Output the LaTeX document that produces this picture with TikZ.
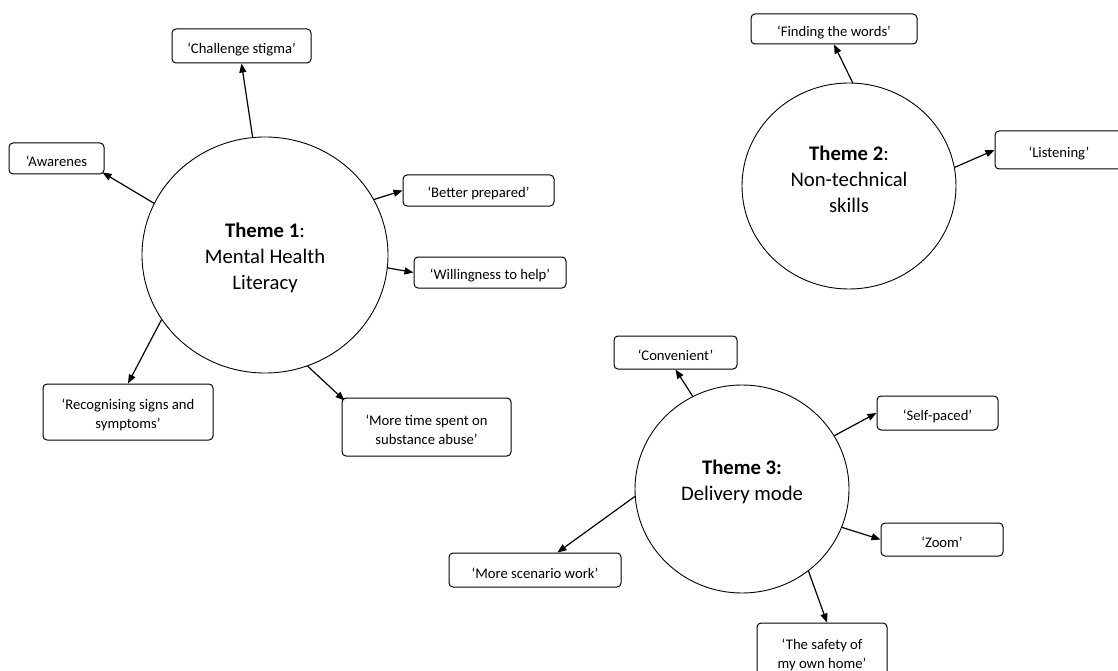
\documentclass[tikz,border=0pt]{standalone}
\usepackage{fontspec}
\setmainfont{Carlito}
\usetikzlibrary{arrows.meta,shapes.geometric}
\begin{document}
\begin{tikzpicture}[x=1pt,y=-1pt,
  theme/.style={draw, ellipse, line width=0.9pt, inner sep=0pt},
  quote/.style={draw, rounded corners=4pt, line width=1pt, align=center, inner sep=0pt, font=\fontsize{14.67}{19}\selectfont, execute at begin node={\rule{0pt}{17pt}}},
  ttl/.style={align=center, font=\fontsize{20.7}{26}\selectfont},
  link/.style={line width=1.2pt, -{Triangle[length=9pt,width=7pt]}}]
\useasboundingbox (0,0) rectangle (1118,671);
\clip (0,0) rectangle (1118,671);

% Theme 1
\node[theme, minimum width=246pt, minimum height=236pt] (c1) at (265,255) {};
\node[ttl] (t1) at (265,258) {\textbf{Theme 1}:\\Mental Health\\Literacy};
\node[quote, minimum width=139pt, minimum height=34pt] (cs) at (241.5,46) {‘Challenge stigma’};
\node[quote, minimum width=95pt, minimum height=31pt] (aw) at (56.5,158.5) {‘Awarenes};
\node[quote, minimum width=151pt, minimum height=31pt] (bp) at (478.5,190.5) {‘Better prepared’};
\node[quote, minimum width=152pt, minimum height=31pt] (wh) at (490,272.5) {‘Willingness to help’};
\node[quote, minimum width=170pt, minimum height=56pt] (rs) at (128,412) {\rule{0pt}{17pt}‘Recognising signs and\\symptoms’};
\node[quote, minimum width=169pt, minimum height=58pt] (mt) at (426.5,427) {\rule{0pt}{17pt}‘More time spent on\\substance abuse’};

% Theme 2
\node[theme, minimum width=214pt, minimum height=206pt] (c2) at (849,186) {};
\node[ttl] (t2) at (849,179) {\textbf{Theme 2}:\\Non-technical\\skills};
\node[quote, minimum width=166pt, minimum height=30pt] (fw) at (834,29) {‘Finding the words’};
\node[quote, minimum width=128pt, minimum height=38pt] (li) at (1059,150) {‘Listening’};

% Theme 3
\node[theme, minimum width=214pt, minimum height=208pt] (c3) at (742,489) {};
\node[ttl] (t3) at (742,482) {\textbf{Theme 3:}\\Delivery mode};
\node[quote, minimum width=123pt, minimum height=33pt] (cv) at (675.5,352.5) {‘Convenient’};
\node[quote, minimum width=121pt, minimum height=34pt] (sp) at (937.5,413) {‘Self-paced’};
\node[quote, minimum width=122pt, minimum height=33pt] (zm) at (942,539.5) {‘Zoom’};
\node[quote, minimum width=172pt, minimum height=34pt] (ms) at (535,570) {‘More scenario work’};
\node[quote, minimum width=130pt, minimum height=57pt] (sf) at (822,651.5) {\rule{0pt}{17pt}‘The safety of\\my own home’};

% connectors
\draw[link] (c1.96) -- (cs.south);
\draw[link] (c1.155) -- ([xshift=-2pt,yshift=2pt]aw.south east);
\draw[link] (c1.27) -- (bp.west);
\draw[link] (c1.-6) -- (wh.west);
\draw[link] (c1.212) -- (rs.north);
\draw[link] (c1.-69) -- ([xshift=3pt,yshift=-3pt]mt.north west);
\draw[link] (c2.88) -- (fw.south);
\draw[link] (c2.10) -- (li.west);
\draw[link] (c3.118) -- (cv.south);
\draw[link] (c3.30) -- (sp.west);
\draw[link] (c3.-21) -- (zm.west);
\draw[link] (c3.184) -- (ms.38);
\draw[link] (c3.-51) -- ([xshift=5pt]sf.north);
\end{tikzpicture}
\end{document}
